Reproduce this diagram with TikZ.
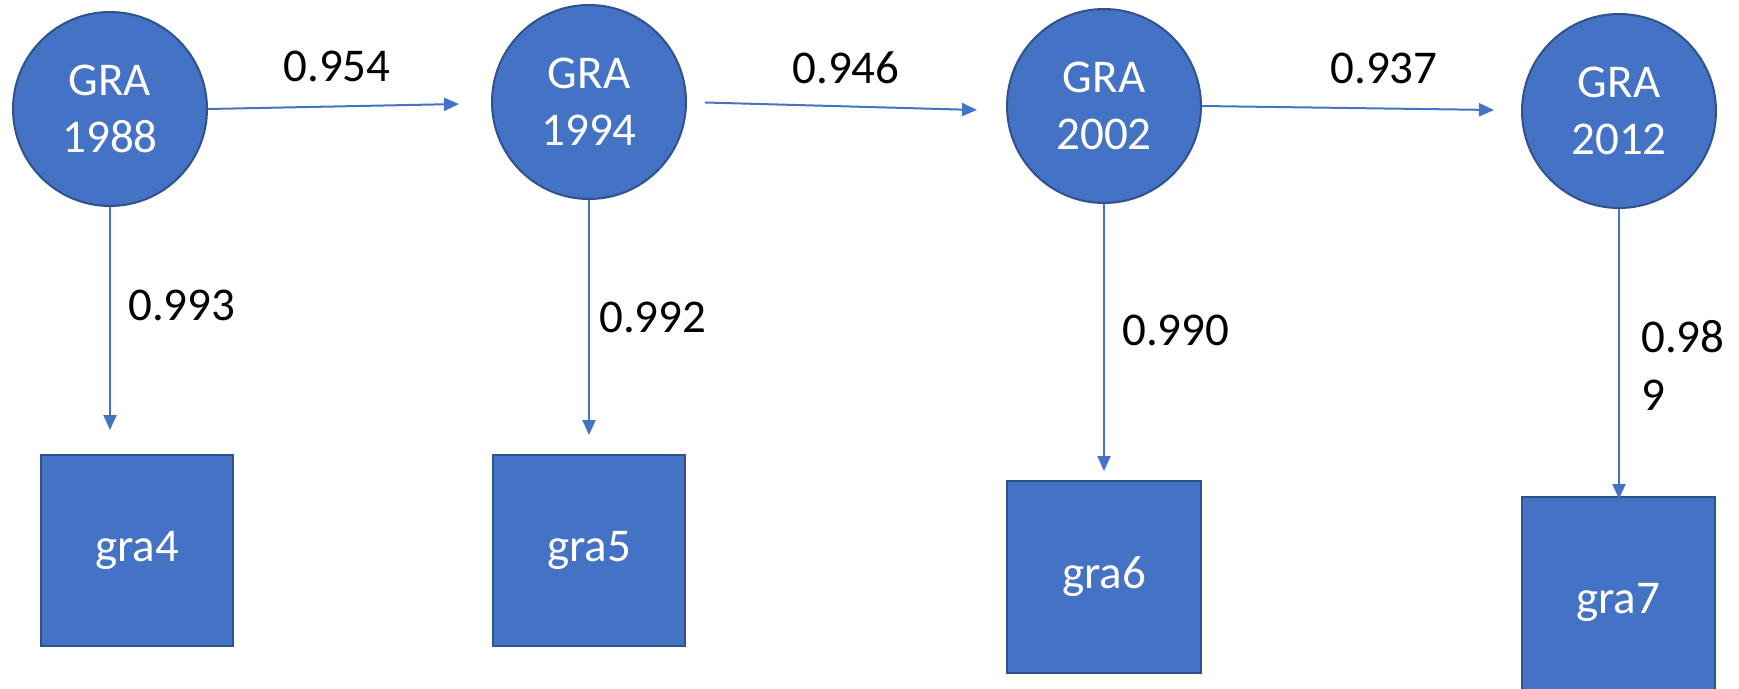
\documentclass[tikz,border=0pt]{standalone}
\usepackage{fontspec}
\setmainfont{Carlito}
\usetikzlibrary{arrows.meta}
\definecolor{fillblue}{HTML}{4472C4}
\definecolor{edgeblue}{HTML}{2F528F}
\begin{document}
\begin{tikzpicture}[x=1pt,y=-1pt,
  latent/.style={circle, minimum size=194pt, inner sep=0pt, fill=fillblue, draw=edgeblue, line width=2pt,
    text=white, align=center, font=\fontsize{47}{57}\selectfont},
  observed/.style={rectangle, inner sep=0pt, fill=fillblue, draw=edgeblue, line width=2pt,
    text=white, font=\fontsize{47}{57}\selectfont},
  arr/.style={draw=fillblue, line width=2pt, -{Triangle[length=15pt,width=13pt]}},
  lbl/.style={inner sep=0pt, text=black, font=\fontsize{47}{58}\selectfont}]
\useasboundingbox (0,0) rectangle (1739,688);
% latent circles
\node[latent] (c1) at (110,109) {GRA\\1988};
\node[latent] (c2) at (589,102) {GRA\\1994};
\node[latent] (c3) at (1104,106) {GRA\\2002};
\node[latent] (c4) at (1619,111) {GRA\\2012};
% observed boxes
\node[observed, minimum width=192pt, minimum height=191pt] (g4) at (137,550) {gra4};
\node[observed, minimum width=192pt, minimum height=191pt] (g5) at (589,550) {gra5};
\node[observed, minimum width=194pt, minimum height=192pt] (g6) at (1104,577) {gra6};
\node[observed, minimum width=193pt, minimum height=210pt] (g7) at (1618,602) {gra7};
% free ends
\coordinate (h1) at (459,104);
\coordinate (h2) at (977,110);
\coordinate (h3) at (1494,110);
\coordinate (v1) at (110,430);
\coordinate (v2) at (589,435);
\coordinate (v3) at (1104,471);
\coordinate (v4) at (1619,499);
% connectors
\draw[arr] (c1.east) -- (h1);
\draw[arr, shorten <=18pt] (c2.east) -- (h2);
\draw[arr] (c3.east) -- (h3);
\draw[arr] (c1.south) -- (v1);
\draw[arr] (c2.south) -- (v2);
\draw[arr] (c3.south) -- (v3);
\draw[arr] (c4.south) -- (v4);
% labels
\node[lbl] (l1) at (337,66) {0.954};
\node[lbl] (l2) at (846,68) {0.946};
\node[lbl] (l3) at (1384,68) {0.937};
\node[lbl, anchor=west] (l4) at (128,305) {0.993};
\node[lbl, anchor=west] (l5) at (599,317) {0.992};
\node[lbl, anchor=west] (l6) at (1122,330) {0.990};
\node[lbl, anchor=north west, align=left] (l7) at (1641,320) {0.98\\9};
\end{tikzpicture}
\end{document}
